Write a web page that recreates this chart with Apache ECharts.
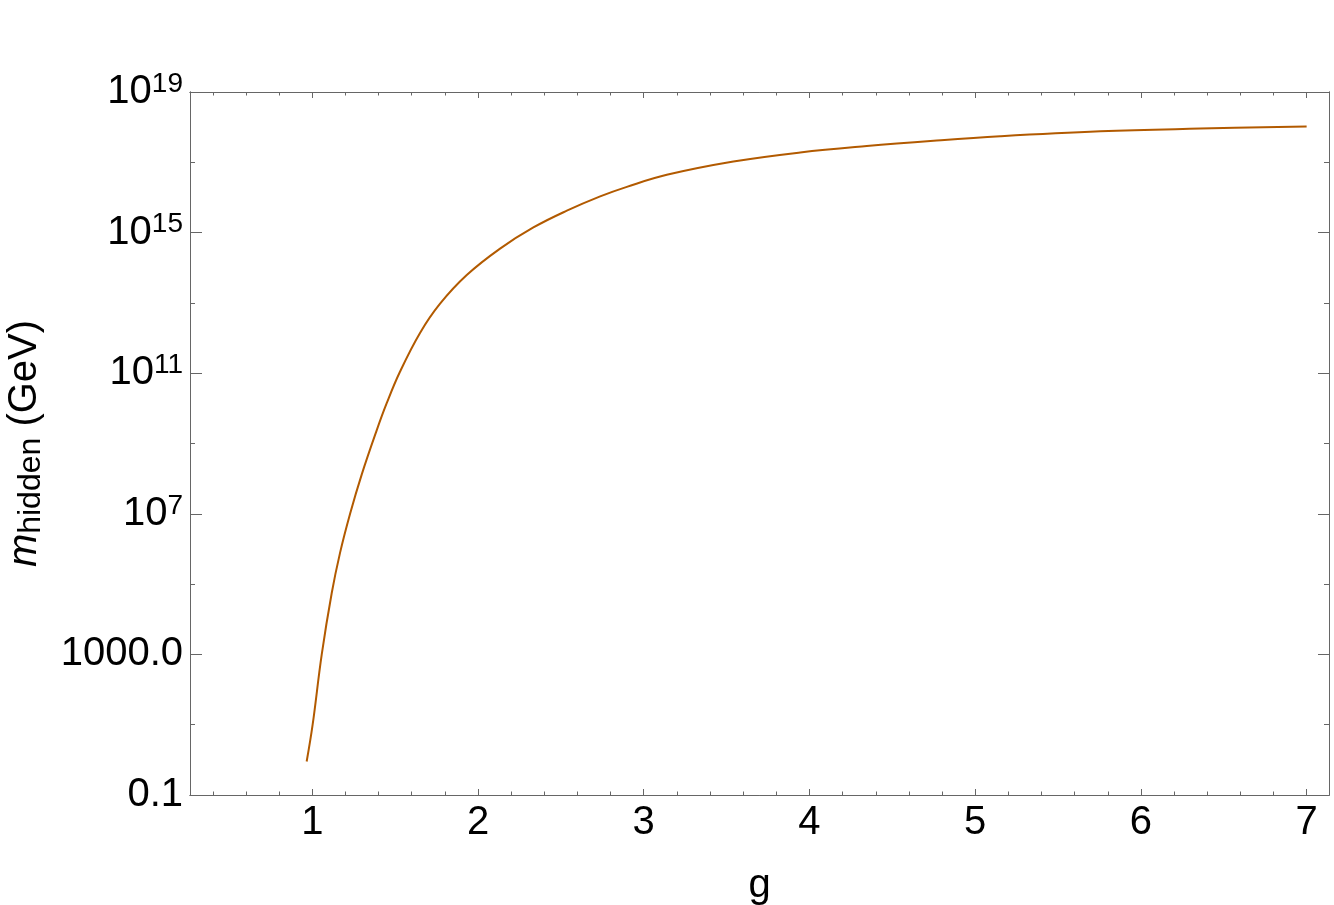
<!DOCTYPE html>
<html>
<head>
<meta charset="utf-8">
<script src="https://cdn.jsdelivr.net/npm/echarts@6/dist/echarts.min.js"></script>
<style>
  html, body { margin: 0; padding: 0; background: #fff; }
  #chart { width: 1334px; height: 905px; }
</style>
</head>
<body>
<div id="chart"></div>
<script>
// coupling g vs hidden sector mass (GeV)
const gValues = [0.966, 1.002, 1.057, 1.117, 1.167, 1.228, 1.298, 1.389, 1.449, 1.529,
  1.650, 1.771, 1.932, 2.133, 2.334, 2.536, 2.737, 2.898, 3.139, 3.541,
  3.944, 4.346, 4.749, 5.151, 5.755, 6.358, 7.0]
const massGeV = [0.9, 10, 1000, 5.5e4, 7.6e5, 1.0e7, 1.3e8, 2.4e9, 1.4e10, 1.1e11,
  1.4e12, 9.5e12, 6.2e13, 3.5e14, 1.4e15, 4.2e15, 1.07e16, 2.0e16, 4.4e16, 1.05e17,
  1.9e17, 2.9e17, 4.1e17, 5.5e17, 7.6e17, 9.1e17, 1.05e18]

const xTickValues = [1, 2, 3, 4, 5, 6, 7]
const yTickValues = [0.1, 1e3, 1e7, 1e11, 1e15, 1e19]
const yMinorTickValues = [10, 1e5, 1e9, 1e13, 1e17]

const xMin = 0.262, xMax = 7.135
const yMin = 0.1, yMax = 1e19

let xMinorTickValues = []
for (let k = 2; k <= 35; k++) {
  if (k % 5 !== 0) xMinorTickValues.push(Math.round(k * 2) / 10)
}

const font = '"Liberation Sans", Arial, sans-serif'
const frame = '#666666'
const lineColor = '#b25a00'

function yLabel(v) {
  if (Math.abs(v - 0.1) < 1e-9) return '0.1'
  if (Math.abs(v - 1000) < 1e-6) return '1000.0'
  return '{b|10}{sup|' + Math.round(Math.log10(v)) + '}'
}

function tickAxis(pos, values, len, extra) {
  return Object.assign({
    type: 'value',
    position: pos,
    min: xMin,
    max: xMax,
    axisLine: { show: true, lineStyle: { color: frame, width: 1 } },
    axisTick: { show: true, inside: true, length: len, customValues: values, lineStyle: { color: frame, width: 1 } },
    axisLabel: { show: false },
    splitLine: { show: false }
  }, extra || {})
}

function yTickAxis(pos, values, len, extra) {
  return Object.assign({
    type: 'log',
    logBase: 10,
    position: pos,
    min: yMin,
    max: yMax,
    axisLine: { show: true, lineStyle: { color: frame, width: 1 } },
    axisTick: { show: true, inside: true, length: len, customValues: values, lineStyle: { color: frame, width: 1 } },
    axisLabel: { show: false },
    splitLine: { show: false }
  }, extra || {})
}

let myChart = echarts.init(document.getElementById('chart'))
myChart.setOption({
  animation: false,
  backgroundColor: '#ffffff',
  grid: { left: 190, right: 5, top: 92, bottom: 110, containLabel: false, outerBoundsMode: 'none' },
  xAxis: [
    tickAxis('bottom', xTickValues, 6, {
      name: 'g',
      nameLocation: 'middle',
      nameGap: 71,
      nameTextStyle: { fontSize: 40, color: '#000', fontFamily: font },
      axisLabel: {
        show: true, customValues: xTickValues, margin: 8,
        fontSize: 40, color: '#000', fontFamily: font
      }
    }),
    tickAxis('bottom', xMinorTickValues, 3.5),
    tickAxis('top', xTickValues, 6),
    tickAxis('top', xMinorTickValues, 3.5)
  ],
  yAxis: [
    yTickAxis('left', yTickValues, 12, {
      name: '{m|m}{sub|hidden}{b| (GeV)}',
      nameLocation: 'middle',
      nameGap: 143,
      nameTextStyle: {
        color: '#000', fontFamily: font,
        rich: {
          m: { fontSize: 40, fontStyle: 'italic', fontFamily: font, color: '#000', lineHeight: 44 },
          sub: { fontSize: 32, fontFamily: font, color: '#000', lineHeight: 30, verticalAlign: 'bottom' },
          b: { fontSize: 40, fontFamily: font, color: '#000', lineHeight: 44 }
        }
      },
      axisLabel: {
        show: true, customValues: yTickValues, margin: 7,
        fontSize: 40, color: '#000', fontFamily: font,
        formatter: yLabel,
        rich: {
          b: { fontSize: 40, fontFamily: font, color: '#000', lineHeight: 44 },
          sup: { fontSize: 28, fontFamily: font, color: '#000', lineHeight: 20, verticalAlign: 'top' }
        }
      }
    }),
    yTickAxis('left', yMinorTickValues, 5),
    yTickAxis('right', yTickValues, 11),
    yTickAxis('right', yMinorTickValues, 5)
  ],
  series: [
    {
      name: 'm_hidden',
      type: 'line',
      xAxisIndex: 0,
      yAxisIndex: 0,
      showSymbol: false,
      smooth: 0.4,
      lineStyle: { color: lineColor, width: 2 },
      data: gValues.map((g, i) => [g, massGeV[i]])
    }
  ]
})
</script>
</body>
</html>
